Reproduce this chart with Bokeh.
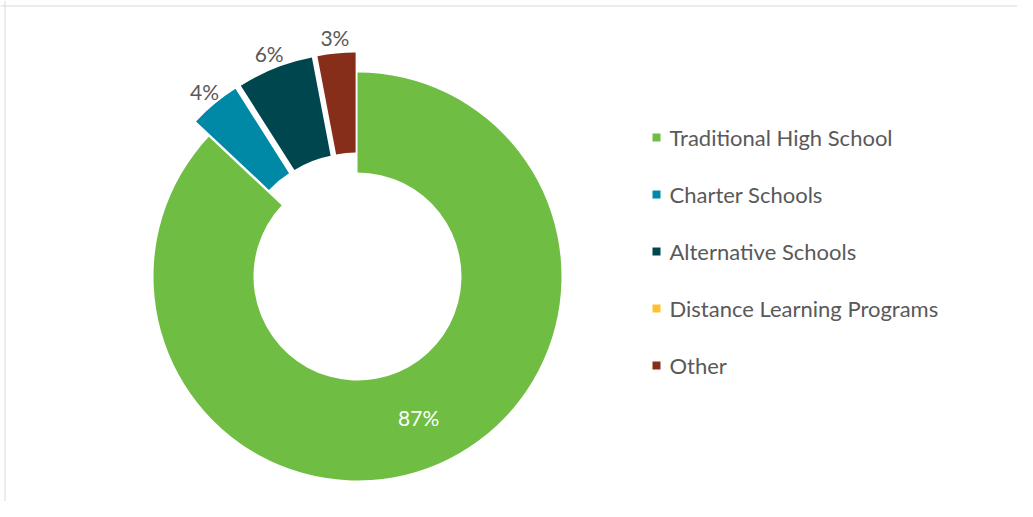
import math
from bokeh.plotting import figure
from bokeh.models import Range1d, Span, ColumnDataSource
from bokeh.core.properties import value
from bokeh.embed import file_html
from bokeh.resources import INLINE

# ---- data ----
categories = ["Traditional High School", "Charter Schools", "Alternative Schools",
              "Distance Learning Programs", "Other"]
values = [87, 4, 6, 0, 3]
labels = ["87%", "4%", "6%", "0%", "3%"]

# ---- styles ----
colors = ["#70BD44", "#0089A7", "#00464F", "#FCC132", "#872E1A"]
explode = [0, 20, 20, 20, 20]
FONT = "Lato"
TEXT_COLOR = "#595959"

W, H = 1017, 501
CX, CY = 357, H - 276      # donut centre (data units = px)
R_OUT, R_IN = 204, 104
R_LABEL_OUT = 240

p = figure(width=W, height=H, x_range=Range1d(0, W), y_range=Range1d(0, H),
           x_axis_type=None, y_axis_type=None, min_border=0,
           toolbar_location=None, output_backend="svg")
p.outline_line_color = None
p.grid.visible = False
p.background_fill_color = "white"

total = float(sum(values))
cum = 0.0
wx, wy, ws, we, wc = [], [], [], [], []
lx, ly, lt, lc = [], [], [], []
big = values.index(max(values))
for i, v in enumerate(values):
    t1 = 2 * math.pi * cum / total
    cum += v
    t2 = 2 * math.pi * cum / total
    if v <= 0:
        continue
    mid = (t1 + t2) / 2
    d = explode[i]
    cx = CX + d * math.sin(mid)
    cy = CY + d * math.cos(mid)
    wx.append(cx); wy.append(cy)
    ws.append(math.pi / 2 - t1); we.append(math.pi / 2 - t2)
    wc.append(colors[i])
    if i == big:
        r = (R_OUT + R_IN) / 2
        lx.append(cx + r * math.sin(mid)); ly.append(cy + r * math.cos(mid))
        lt.append(labels[i]); lc.append("white")
    else:
        lx.append(CX + R_LABEL_OUT * math.sin(mid)); ly.append(CY + R_LABEL_OUT * math.cos(mid))
        lt.append(labels[i]); lc.append(TEXT_COLOR)

src = ColumnDataSource(dict(x=wx, y=wy, s=ws, e=we, c=wc))
p.annular_wedge(x="x", y="y", inner_radius=R_IN, outer_radius=R_OUT,
                start_angle="s", end_angle="e", direction="clock",
                fill_color="c", line_color=None, source=src)

lsrc = ColumnDataSource(dict(x=lx, y=ly, t=lt, c=lc))
p.text(x="x", y="y", text="t", text_color="c", text_font=value(FONT),
       text_font_size="21px", text_align="center", text_baseline="middle", source=lsrc)

# ---- legend ----
LEG_X, LEG_Y0, LEG_DY = 656, H - 137, 57
gx = [LEG_X] * len(categories)
gy = [LEG_Y0 - LEG_DY * i for i in range(len(categories))]
p.scatter(x=gx, y=gy, marker="square", size=8, fill_color=colors, line_color=None)
p.text(x=[LEG_X + 13] * len(categories), y=gy, text=categories, text_color=TEXT_COLOR,
       text_font=value(FONT), text_font_size="22px", text_align="left", text_baseline="middle")

# chart border (top/left visible)
p.add_layout(Span(location=H - 5.5, dimension="width", line_color="#D9D9D9", line_width=1))
p.add_layout(Span(location=4.5, dimension="height", line_color="#D9D9D9", line_width=1))

open("out.html", "w").write(file_html(p, INLINE))
